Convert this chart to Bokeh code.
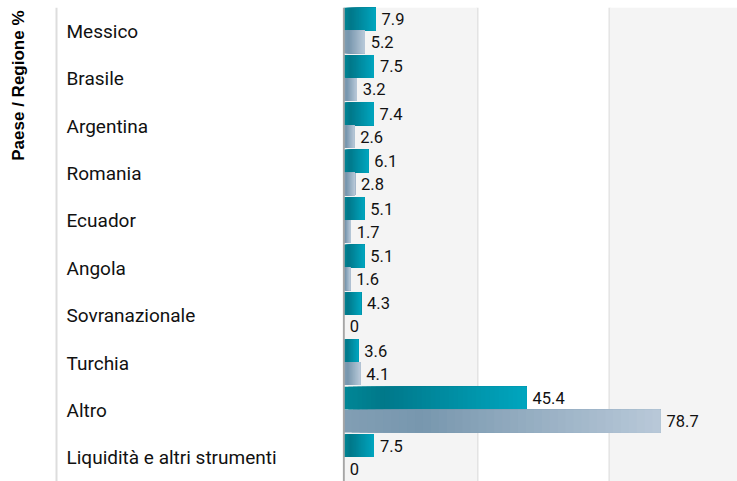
import math
from bokeh.plotting import figure
from bokeh.layouts import row
from bokeh.models import (ColumnDataSource, FactorRange, Range1d, Span, BoxAnnotation,
                          FixedTicker, Label)
from bokeh.transform import dodge
from bokeh.core.properties import value
from bokeh.embed import file_html
from bokeh.resources import INLINE

categories = ["Messico", "Brasile", "Argentina", "Romania", "Ecuador", "Angola",
              "Sovranazionale", "Turchia", "Altro", "Liquidità e altri strumenti"]
fund = [7.9, 7.5, 7.4, 6.1, 5.1, 5.1, 4.3, 3.6, 45.4, 7.5]
benchmark = [5.2, 3.2, 2.6, 2.8, 1.7, 1.6, 0, 4.1, 78.7, 0]
axis_title = "Paese / Regione %"

TEAL_STOPS = [(0.0, (0, 135, 150)), (0.22, (0, 120, 138)), (1.0, (0, 166, 191))]
GRAY_STOPS = [(0.0, (129, 158, 180)), (0.25, (120, 151, 174)), (1.0, (185, 201, 217))]
N_SEG = 40

def interp(stops, t):
    for (t0, c0), (t1, c1) in zip(stops[:-1], stops[1:]):
        if t <= t1:
            f = (t - t0) / (t1 - t0) if t1 > t0 else 0
            return "#%02x%02x%02x" % tuple(int(round(a + (b - a) * f)) for a, b in zip(c0, c1))
    return "#%02x%02x%02x" % stops[-1][1]

def gradient_source(vals, stops):
    # each bar painted as stacked segments, each running from its start to the bar end
    d = dict(cat=[], left=[], right=[], color=[])
    for c, v in zip(categories, vals):
        if v <= 0:
            continue
        for i in range(N_SEG):
            d["cat"].append(c)
            d["left"].append(v * i / N_SEG)
            d["right"].append(v)
            d["color"].append(interp(stops, (i + 0.5) / N_SEG))
    return ColumnDataSource(d)

y_range = FactorRange(factors=list(reversed(categories)), range_padding=0)

H = 481
TOP = 7
LEFT_W = 342
# left panel (x in pixels) holding the axis title and the category labels
pl = figure(width=LEFT_W, height=H, y_range=y_range, x_range=Range1d(0, LEFT_W),
            output_backend="svg", toolbar_location=None,
            min_border_left=0, min_border_right=0, min_border_top=TOP, min_border_bottom=0)
pl.xaxis.visible = False
pl.yaxis.visible = False
pl.grid.visible = False
pl.outline_line_color = None
pl.add_layout(Span(location=56, dimension="height", line_color="#dddddd", line_width=2))
lab_src = ColumnDataSource(dict(cat=categories, x=[0] * len(categories)))
pl.text(x="x", y="cat", text="cat", source=lab_src, x_offset=66,
        text_font=value("Roboto"), text_font_size="19px", text_color="#111111",
        text_baseline="middle", text_align="left")
pl.add_layout(Label(x=18, y=len(categories), y_offset=-3, text=axis_title, angle=math.pi / 2,
                    text_align="right", text_baseline="middle",
                    text_font="Liberation Sans", text_font_size="17px",
                    text_font_style="bold", text_color="#000000"))

# right panel with bars
pr = figure(width=737 - LEFT_W, height=H, y_range=y_range, x_range=Range1d(-0.32, 97.84),
            output_backend="svg", toolbar_location=None,
            min_border_left=0, min_border_right=0, min_border_top=TOP, min_border_bottom=0)
pr.xaxis.visible = False
pr.yaxis.visible = False
pr.ygrid.visible = False
pr.outline_line_color = None
pr.add_layout(BoxAnnotation(left=0, right=33.15, fill_color="#f4f4f4", fill_alpha=1, line_color=None, level="underlay"))
pr.add_layout(BoxAnnotation(left=66.1, fill_color="#f4f4f4", fill_alpha=1, line_color=None, level="underlay"))
pr.xgrid.ticker = FixedTicker(ticks=[33.15, 66.1])
pr.xgrid.grid_line_color = "#e0e0e0"
pr.xgrid.grid_line_width = 2

src_f = gradient_source(fund, TEAL_STOPS)
src_b = gradient_source(benchmark, GRAY_STOPS)
pr.hbar(y=dodge("cat", 0.257, range=y_range), left="left", right="right", height=0.48,
        fill_color="color", line_color=None, source=src_f)
pr.hbar(y=dodge("cat", -0.226, range=y_range), left="left", right="right", height=0.48,
        fill_color="color", line_color=None, source=src_b)
pr.add_layout(Span(location=0, dimension="height", line_color="#a6a6a6", line_width=2))

vsrc = ColumnDataSource(dict(cat=categories, fund=fund, bench=benchmark,
                             fund_t=[f"{v:g}" for v in fund],
                             bench_t=[f"{v:g}" for v in benchmark]))
pr.text(x="fund", y=dodge("cat", 0.257, range=y_range), text="fund_t", source=vsrc,
        x_offset=6, text_font=value("Roboto"), text_font_size="16.5px", text_color="#111111",
        text_baseline="middle", text_align="left")
pr.text(x="bench", y=dodge("cat", -0.226, range=y_range), text="bench_t", source=vsrc,
        x_offset=6, text_font=value("Roboto"), text_font_size="16.5px", text_color="#111111",
        text_baseline="middle", text_align="left")

layout = row(pl, pr, spacing=0)
open("out.html", "w").write(file_html(layout, INLINE))
